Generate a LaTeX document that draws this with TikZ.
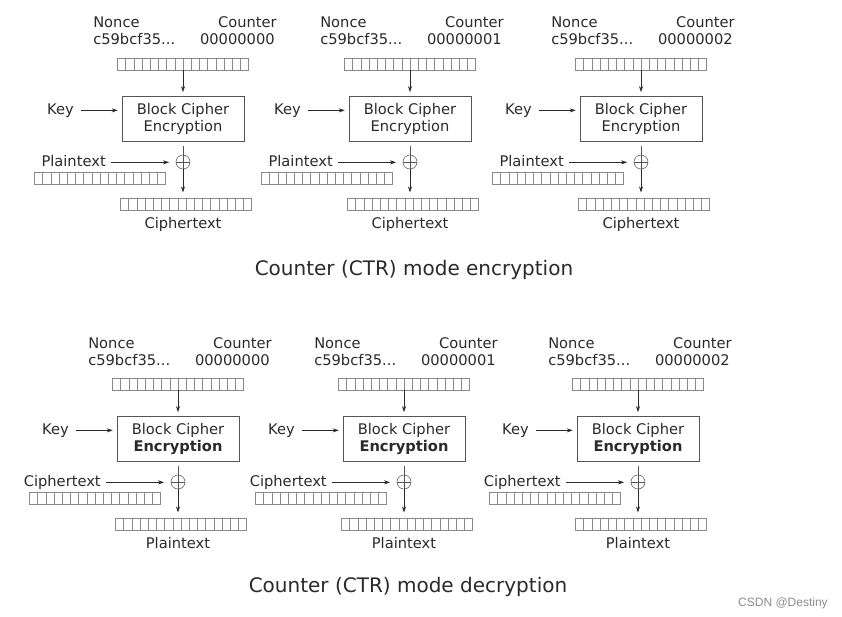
\documentclass[tikz,border=0pt]{standalone}
\usepackage{fontspec}
\setmainfont{DejaVu Sans}
\newfontfamily\markfont{Liberation Sans}
\usetikzlibrary{arrows.meta, positioning, calc}
\definecolor{linegray}{HTML}{555555}
\definecolor{cellgray}{HTML}{8A8A8A}
\definecolor{textdark}{HTML}{2A2A2A}
\definecolor{markgray}{HTML}{8C8C8C}

\begin{document}
\begin{tikzpicture}[
    x=0.75pt, y=-0.75pt,
    font=\fontsize{11pt}{13pt}\selectfont,
    label/.style={
        text=textdark,
        inner sep=0pt
    },
    cipher/.style={
        draw=linegray,
        minimum width=91.5pt,
        minimum height=34pt,
        inner sep=0pt,
        align=center,
        text=textdark
    },
    block/.style={
        draw=cellgray,
        minimum width=98.25pt,
        minimum height=9pt,
        inner sep=0pt,
        path picture={
            \foreach \k in {1,...,15}
                \draw[cellgray, line width=0.3pt]
                    ([xshift=\k*6.14pt]path picture bounding box.south west) --
                    ([xshift=\k*6.14pt]path picture bounding box.north west);
        }
    },
    xor/.style={
        circle,
        draw=linegray,
        minimum size=10.5pt,
        inner sep=0pt
    },
    arrow/.style={
        -{Stealth[length=4.5pt, width=3pt]},
        color=textdark,
        line width=0.4pt
    },
    title/.style={
        font=\fontsize{15pt}{18pt}\selectfont,
        text=textdark
    }
]

% Page
\fill[white] (0,0) rectangle (842,617);
\useasboundingbox (0,0) rectangle (842,617);

% Panels (e = encryption row, d = decryption row)
\foreach \n/\ax/\ay/\cnt/\inp/\outp/\wt in {
    e1/183/119/00000000/Plaintext/Ciphertext/\mdseries,
    e2/410/119/00000001/Plaintext/Ciphertext/\mdseries,
    e3/641/119/00000002/Plaintext/Ciphertext/\mdseries,
    d1/178/439/00000000/Ciphertext/Plaintext/\bfseries,
    d2/404/439/00000001/Ciphertext/Plaintext/\bfseries,
    d3/638/439/00000002/Ciphertext/Plaintext/\bfseries} {

    % Nonce and counter
    \node[label, anchor=base west] (nonce\n) at (\ax-90, \ay-91) {Nonce};
    \node[label, anchor=base east] (counter\n) at (\ax+94, \ay-91) {Counter};
    \node[label, anchor=base west] (nval\n) at (\ax-90, \ay-74) {c59bcf35...};
    \node[label, anchor=base east] (cval\n) at (\ax+92, \ay-74) {\cnt};
    \node[block] (ctr\n) at (\ax, \ay-55) {};

    % Block cipher
    \node[cipher] (box\n) at (\ax, \ay) {Block Cipher\\{\wt Encryption}};
    \node[label, anchor=base east] (key\n) at (\ax-109, \ay-5) {Key};

    % XOR with input
    \node[xor] (xor\n) at (\ax, \ay+43) {};
    \draw[linegray, line width=0.4pt] (xor\n.north) -- (xor\n.south) (xor\n.west) -- (xor\n.east);
    \node[label, anchor=base east] (in\n) at (\ax-77, \ay+47) {\inp};
    \node[block] (inblk\n) at (\ax-83, \ay+59) {};

    % Output
    \node[block] (outblk\n) at (\ax+3, \ay+85) {};
    \node[label, anchor=base] (out\n) at (\ax, \ay+109) {\outp};

    % Arrows
    \draw[arrow, shorten >=3pt] (ctr\n) -- (box\n);
    \draw[arrow, shorten <=5pt, shorten >=3pt] (key\n.mid east) -- (key\n.mid east -| box\n.west);
    \draw[linegray, line width=0.4pt, shorten <=3pt] (box\n.south) -- (xor\n.north);
    \draw[arrow, shorten <=4pt, shorten >=5pt] (in\n.mid east) -- (in\n.mid east -| xor\n.west);
    \draw[arrow, shorten >=4pt] (xor\n.south) -- (xor\n.south |- outblk\n.north);
}

% Titles
\node[title, anchor=base] (enctitle) at (414, 275) {Counter (CTR) mode encryption};
\node[title, anchor=base] (dectitle) at (408, 592) {Counter (CTR) mode decryption};

% Watermark
\node[anchor=base east, inner sep=0pt, font=\markfont\fontsize{9pt}{10pt}\selectfont, text=markgray] (mark) at (828, 606) {CSDN @Destiny};

\end{tikzpicture}
\end{document}
